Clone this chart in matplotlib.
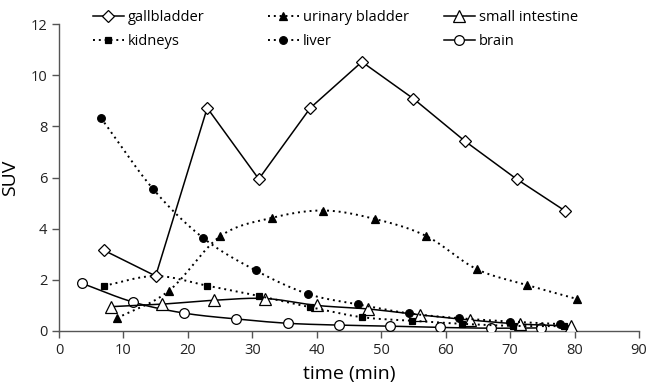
import numpy as np
import matplotlib
matplotlib.use("Agg")
import matplotlib.pyplot as plt
from matplotlib.lines import Line2D

# ---- data ----
gb_x = [7, 15, 23, 31, 39, 47, 55, 63, 71, 78.5]
gb_y = [3.15, 2.15, 8.72, 5.94, 8.72, 10.52, 9.08, 7.42, 5.94, 4.7]

ub_x = [9, 17, 25, 33, 41, 49, 57, 64.8, 72.6, 80.4]
ub_y = [0.5, 1.56, 3.7, 4.42, 4.71, 4.38, 3.71, 2.42, 1.8, 1.25]

si_x = [8, 16, 24, 32, 40, 48, 56, 63.8, 71.6, 79.4]
si_y = [0.95, 1.05, 1.2, 1.27, 1.0, 0.86, 0.63, 0.43, 0.27, 0.2]

kd_x = [7, 15, 23, 31, 39, 47, 54.8, 62.6, 70.5, 78.4]
kd_y = [1.77, 2.15, 1.77, 1.37, 0.93, 0.54, 0.4, 0.28, 0.2, 0.19]

lv_x = [6.5, 14.6, 22.4, 30.5, 38.6, 46.4, 54.3, 62.1, 70, 77.8]
lv_y = [8.33, 5.55, 3.63, 2.37, 1.45, 1.04, 0.69, 0.5, 0.37, 0.27]

br_x = [3.5, 11.5, 19.4, 27.5, 35.6, 43.5, 51.3, 59.1, 67, 74.8]
br_y = [1.87, 1.13, 0.7, 0.47, 0.3, 0.23, 0.19, 0.14, 0.11, 0.12]

x_ticks = [0, 10, 20, 30, 40, 50, 60, 70, 80, 90]
y_ticks = [0, 2, 4, 6, 8, 10, 12]


def smooth(x, y, n=20):
    """Catmull-Rom style smoothing like Excel's smoothed lines (rendering only)."""
    x = np.asarray(x, float); y = np.asarray(y, float)
    px = np.concatenate([[2 * x[0] - x[1]], x, [2 * x[-1] - x[-2]]])
    py = np.concatenate([[2 * y[0] - y[1]], y, [2 * y[-1] - y[-2]]])
    xs, ys = [], []
    t = np.linspace(0, 1, n)
    for i in range(1, len(px) - 2):
        p0, p1, p2, p3 = [np.array([px[j], py[j]]) for j in range(i - 1, i + 3)]
        tt = t[:, None]
        pts = 0.5 * ((2 * p1) + (-p0 + p2) * tt + (2 * p0 - 5 * p1 + 4 * p2 - p3) * tt ** 2
                     + (-p0 + 3 * p1 - 3 * p2 + p3) * tt ** 3)
        xs.extend(pts[:, 0]); ys.extend(pts[:, 1])
    return np.array(xs), np.array(ys)


plt.rcParams['font.family'] = ['Open Sans', 'DejaVu Sans']
fig = plt.figure(figsize=(6.47, 3.86), dpi=100)
ax = fig.add_axes([59 / 647, 1 - 331 / 386, 580 / 647, 307 / 386])

dot = (0, (1.0, 2.0))
lw = 1.1
lw_dot = 1.4

series = [
    ("gallbladder", gb_x, gb_y, '-', False, dict(marker='D', mfc='white', mec='black', ms=6.3)),
    ("kidneys", kd_x, kd_y, dot, True, dict(marker='s', mfc='black', mec='black', ms=4.3)),
    ("urinary bladder", ub_x, ub_y, dot, True, dict(marker='^', mfc='black', mec='black', ms=5.5)),
    ("liver", lv_x, lv_y, dot, True, dict(marker='o', mfc='black', mec='black', ms=5.5)),
    ("small intestine", si_x, si_y, '-', True, dict(marker='^', mfc='white', mec='black', ms=8)),
    ("brain", br_x, br_y, '-', True, dict(marker='o', mfc='white', mec='black', ms=7)),
]

order_draw = ["brain", "small intestine", "kidneys", "liver", "urinary bladder", "gallbladder"]
handles = {}
for name, xs, ys, ls, sm, mk in series:
    z = 3 + order_draw.index(name)
    w = lw if ls == '-' else lw_dot
    if sm:
        sx, sy = smooth(xs, ys)
    else:
        sx, sy = xs, ys
    ax.plot(sx, sy, color='black', ls=ls, lw=w, zorder=z)
    ax.plot(xs, ys, ls='none', mew=0.9, zorder=z + 0.5, **mk)
    handles[name] = Line2D([], [], color='black', ls=ls, lw=w, mew=0.9, **mk)

ax.set_xlim(0, 90)
ax.set_ylim(0, 12)
ax.set_xticks(x_ticks)
ax.set_yticks(y_ticks)
for s in ['top', 'right']:
    ax.spines[s].set_visible(False)
for s in ['left', 'bottom']:
    ax.spines[s].set_color('#555555')
    ax.spines[s].set_linewidth(1.0)
ax.tick_params(axis='both', direction='out', length=5, color='#555555', labelsize=10.5,
               labelcolor='#222222', width=1.0)
ax.set_xlabel("time (min)", fontsize=14, labelpad=5)
ax.set_ylabel("SUV", fontsize=14, labelpad=8)

columns = [["gallbladder", "kidneys"], ["urinary bladder", "liver"], ["small intestine", "brain"]]
col_left = [93, 268, 444]
for names, xl in zip(columns, col_left):
    lg = fig.legend([handles[n] for n in names], names, loc='upper left',
                    bbox_to_anchor=(xl / 647, 1 - 10 / 386), frameon=False, fontsize=10.5,
                    handlelength=2.1, handletextpad=0.3, labelspacing=0.65,
                    borderaxespad=0, borderpad=0)

fig.savefig("out.png", dpi=100)
